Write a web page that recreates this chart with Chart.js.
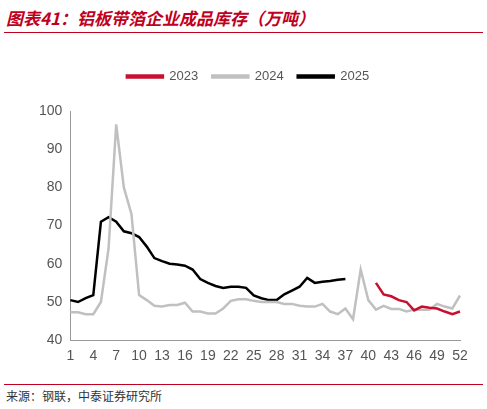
<!DOCTYPE html>
<html><head><meta charset="utf-8">
<script src="https://cdn.jsdelivr.net/npm/chart.js@4"></script>
<style>
body{margin:0;background:#fff;width:487px;height:409px;position:relative;font-family:"Noto Sans CJK SC",sans-serif;overflow:hidden}
#title{position:absolute;left:6px;top:5px;color:#c00020;font-size:17px;font-style:italic;font-weight:bold}
#tl{position:absolute;left:4px;right:4px;top:32px;border-top:1.5px solid #c00020}
#bl{position:absolute;left:4px;right:4px;top:384px;border-top:1.5px solid #c00020}
#src{position:absolute;left:6px;top:387px;font-size:12px;color:#333}
#wrap{position:absolute;left:0;top:56px;width:480px;height:312px}
</style></head><body>
<div id="title">图表41：铝板带箔企业成品库存（万吨）</div>
<div id="tl"></div>
<div id="wrap"><canvas id="c"></canvas></div>
<div id="bl"></div>
<div id="src">来源：钢联，中泰证券研究所</div>
<script>
const weeks = Array.from({length: 52}, (_, i) => String(i + 1));
const y2023 = [null,null,null,null,null,null,null,null,null,null,null,null,null,null,null,null,null,null,null,null,
  null,null,null,null,null,null,null,null,null,null,null,null,null,null,null,null,null,null,null,null,
  55,52,51.5,50.5,50,47.8,48.8,48.5,48.3,47.5,46.8,47.5];
const y2024 = [47.3,47.3,46.8,46.8,50,64,96.5,80,73,51.8,50.5,49,48.8,49.2,49.2,49.8,47.5,47.5,47,47,
  48.3,50.3,50.7,50.7,50.3,50,50,50,49.5,49.5,49,48.8,48.8,49.5,47.5,46.8,48.3,45.5,58.5,50.5,
  48,49,48.2,48.2,47.5,48,48,48,49.5,48.8,48.3,51.7];
const y2025 = [50.5,50,51,51.8,71,72.2,71,68.5,68,67,64.5,61.5,60.7,60,59.8,59.5,58.5,56,55,54.2,
  53.7,54,54,53.7,51.7,51,50.5,50.5,52,53,54,56.3,55,55.3,55.5,55.8,56];
const yTicks = [40, 50, 60, 70, 80, 90, 100];

const ds = (label, data, color) => ({label, data, borderColor: color, backgroundColor: color,
  borderWidth: 2.5, pointRadius: 0, tension: 0, spanGaps: false});

new Chart(document.getElementById('c'), {
  type: 'line',
  data: {labels: weeks, datasets: [ds('2023', y2023, '#c8102e'), ds('2024', y2024, '#c0c0c0'), ds('2025', y2025, '#000000')]},
  options: {
    responsive: true, maintainAspectRatio: false, animation: false,
    layout: {padding: {left: 36, right: 20}},
    plugins: {
      legend: {labels: {boxWidth: 36, boxHeight: 2, color: '#555', font: {size: 13, family: 'Liberation Sans'}, padding: 14}},
      tooltip: {enabled: false}
    },
    scales: {
      x: {grid: {display: false, drawTicks: true, tickLength: 5, tickColor: '#999'}, border: {color: '#999'},
        ticks: {autoSkip: false, maxRotation: 0, color: '#555', font: {size: 14, family: 'Liberation Sans'},
          callback: (v, i) => (i % 3 === 0 ? weeks[i] : '')}},
      y: {min: 40, max: 100, afterBuildTicks: a => { a.ticks = yTicks.map(v => ({value: v})); },
        afterFit: a => { a.paddingTop = 0; },
        grid: {display: false, tickLength: 5, tickColor: '#999'}, border: {color: '#999'},
        ticks: {color: '#555', font: {size: 14, family: 'Liberation Sans'}}}
    }
  },
  plugins: [{id: 'legendGap', beforeInit(chart) {
    const fit = chart.legend.fit;
    chart.legend.fit = function () { fit.bind(chart.legend)(); this.height += 18; };
  }}]
});
</script>
</body></html>
